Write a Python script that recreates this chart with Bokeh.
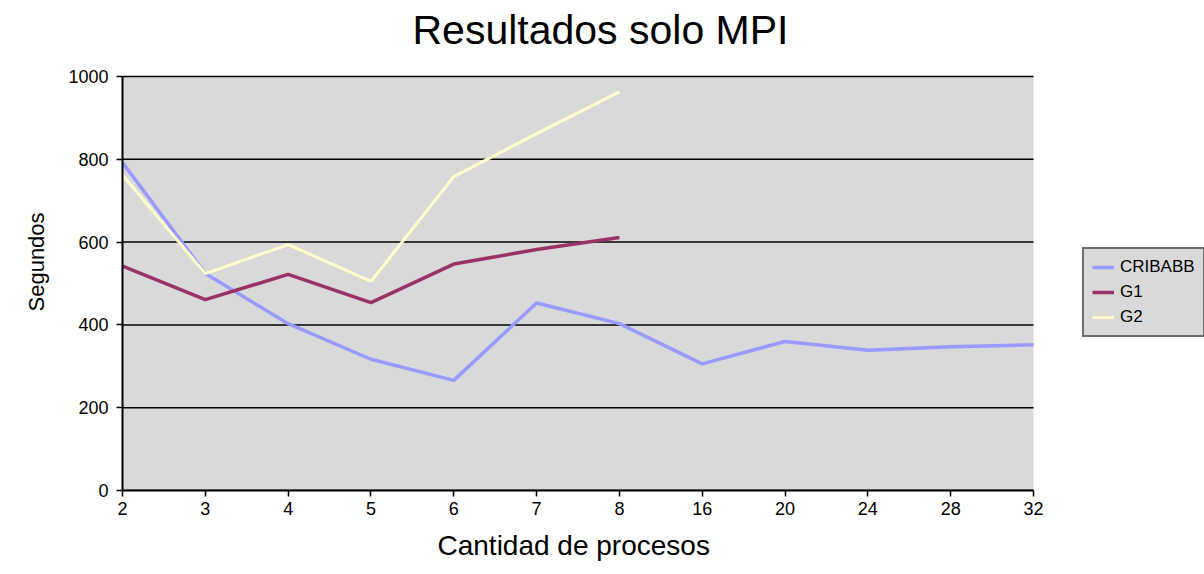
from bokeh.plotting import figure
from bokeh.models import FixedTicker, Legend, LegendItem, BoxAnnotation, Label, Title
from bokeh.embed import file_html
from bokeh.resources import INLINE

categories = ["2", "3", "4", "5", "6", "7", "8", "16", "20", "24", "28", "32"]
cribabb = [792, 524, 403, 317, 266, 453, 403, 306, 360, 339, 347, 352]
g1 = [542, 461, 522, 454, 547, 582, 611]
g2 = [762, 524, 594, 505, 758, 862, 963]
y_ticks = [0, 200, 400, 600, 800, 1000]

FONT = "Liberation Sans"
W, H = 1204, 574
# layout (pixels): plot area 122..1033 horizontally, 76..490 vertically
L, R, T, B = 122, 1033, 76, 490
n = len(categories)
ymax = y_ticks[-1]
px_x = (R - L) / (n - 1)
px_y = (B - T) / ymax
x_end = (W - L) / px_x
y_end = B / px_y

p = figure(width=W, height=H, output_backend="svg", toolbar_location=None,
           x_range=(0, x_end), y_range=(0, y_end),
           min_border_left=L, min_border_right=0, min_border_top=0, min_border_bottom=H - B,
           background_fill_color="white", border_fill_color="white")
p.outline_line_color = None
p.xgrid.grid_line_color = None
p.ygrid.grid_line_color = None

# plot-area background
p.add_layout(BoxAnnotation(left=0, right=n - 1, bottom=0, top=ymax,
                           fill_color="#D9D9D9", fill_alpha=1, line_color=None,
                           level="underlay"))
# horizontal gridlines
p.segment(x0=[0] * len(y_ticks), x1=[n - 1] * len(y_ticks), y0=y_ticks, y1=y_ticks,
          line_color="black", line_width=1.5)

xs = list(range(n))
r1 = p.line(xs, cribabb, line_color="#9999FF", line_width=3.5)
r2 = p.line(xs[:len(g1)], g1, line_color="#993366", line_width=3.5)
r3 = p.line(xs[:len(g2)], g2, line_color="#FFFFCC", line_width=3)

# axes
p.xaxis.ticker = FixedTicker(ticks=xs)
p.xaxis.major_label_overrides = {i: c for i, c in enumerate(categories)}
p.xaxis.bounds = (0, n - 1)
p.yaxis.ticker = FixedTicker(ticks=y_ticks)
p.yaxis.bounds = (0, ymax)
for ax in (p.xaxis[0], p.yaxis[0]):
    ax.axis_line_color = "black"
    ax.axis_line_width = 2
    ax.major_tick_line_color = "black"
    ax.major_tick_line_width = 1.5
    ax.major_tick_in = 0
    ax.minor_tick_line_color = None
    ax.major_label_text_font = FONT
    ax.major_label_text_font_size = "18px"
    ax.major_label_text_color = "black"
p.xaxis.major_tick_out = 6
p.yaxis.major_tick_out = 6
p.xaxis.major_label_standoff = 5
p.yaxis.major_label_standoff = 8

# axis titles (placed as side titles so they can be positioned relative to the plot area)
p.add_layout(Title(text="Cantidad de procesos", align="left", offset=437 - L,
                   text_font=FONT, text_font_size="28px", text_font_style="normal",
                   text_color="black", standoff=20), "below")
p.add_layout(Title(text="Segundos", align="left", offset=B - 311, vertical_align="top",
                   text_font=FONT, text_font_size="22px", text_font_style="normal",
                   text_color="black", standoff=30), "left")

# chart title
title_x = (600 - L) / px_x
title_y = (B - 29) / px_y
p.add_layout(Label(x=title_x, y=title_y, text="Resultados solo MPI",
                   text_font=FONT, text_font_size="41px", text_color="black",
                   text_align="center", text_baseline="alphabetic"))

legend = Legend(items=[LegendItem(label="CRIBABB", renderers=[r1]),
                       LegendItem(label="G1", renderers=[r2]),
                       LegendItem(label="G2", renderers=[r3])],
                location=(1082 - L, B - 337))
legend.background_fill_color = "#D9D9D9"
legend.background_fill_alpha = 1
legend.border_line_color = "black"
legend.border_line_width = 2
legend.label_text_font = FONT
legend.label_text_font_size = "17px"
legend.label_text_color = "black"
legend.glyph_width = 22
legend.glyph_height = 20
legend.label_height = 20
legend.spacing = 5
legend.padding = 8
legend.margin = 0
legend.label_standoff = 6
p.add_layout(legend, "center")

open("out.html", "w").write(file_html(p, INLINE))
